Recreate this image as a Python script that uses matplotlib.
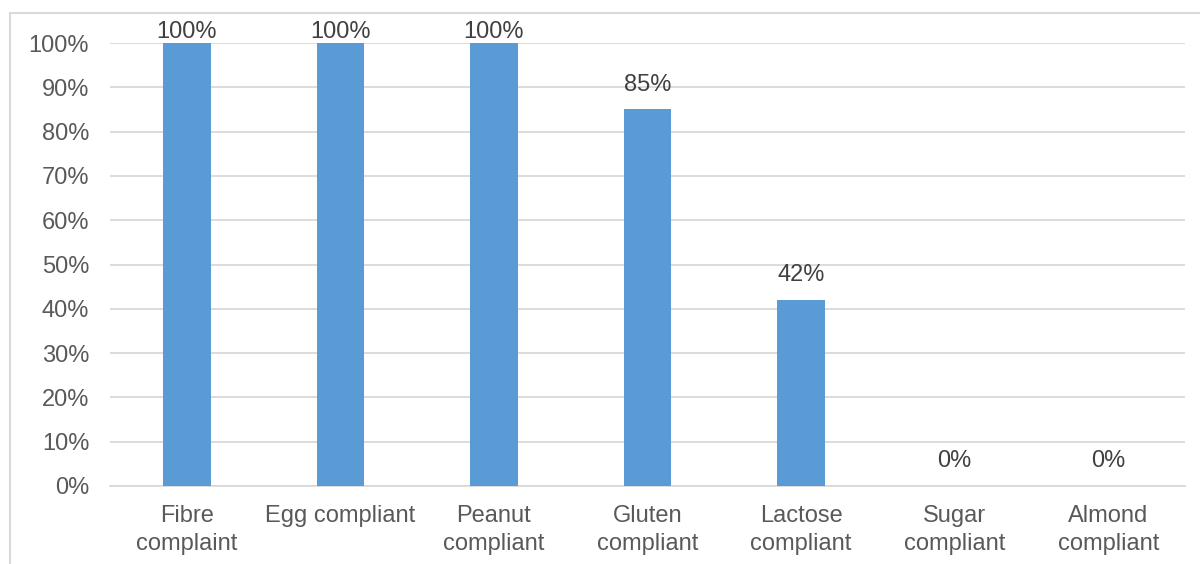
import matplotlib
matplotlib.use("Agg")
import matplotlib.pyplot as plt
from matplotlib.patches import Rectangle
from matplotlib.ticker import PercentFormatter

categories = ["Fibre\ncomplaint", "Egg compliant", "Peanut\ncompliant", "Gluten\ncompliant",
              "Lactose\ncompliant", "Sugar\ncompliant", "Almond\ncompliant"]
values = [100, 100, 100, 85, 42, 0, 0]
value_labels = ["100%", "100%", "100%", "85%", "42%", "0%", "0%"]

plt.rcParams["font.family"] = ["Liberation Sans", "DejaVu Sans"]

W, H = 1200, 564
fig = plt.figure(figsize=(W / 100, H / 100), dpi=100)
ax = fig.add_axes([110 / W, 1 - 486 / H, (1185 - 110) / W, (486 - 43) / H])

x = range(len(categories))
ax.bar(x, values, width=0.31, color="#5B9BD5", zorder=3)
ax.set_xlim(-0.5, len(categories) - 0.5)
ax.set_ylim(0, 100)
ax.set_yticks(range(0, 101, 10))
ax.yaxis.set_major_formatter(PercentFormatter(decimals=0))
ax.set_xticks(list(x))
ax.set_xticklabels(categories, linespacing=1.3)
ax.tick_params(axis="both", length=0, labelsize=17, colors="#595959")
ax.tick_params(axis="y", pad=15)
ax.tick_params(axis="x", pad=14)
ax.grid(axis="y", color="#D9D9D9", linewidth=1.3, zorder=0)
for s in ("top", "right", "left"):
    ax.spines[s].set_visible(False)
ax.spines["bottom"].set_color("#D9D9D9")
ax.spines["bottom"].set_linewidth(1.3)

for xi, v, lab in zip(x, values, value_labels):
    ax.annotate(lab, (xi, v), xytext=(0, 0 if v >= 100 else 10), textcoords="offset points",
                ha="center", va="bottom", fontsize=17, color="#404040", zorder=4,
                annotation_clip=False)

# outer chart frame
fig.patches.append(Rectangle((10 / W, -0.1), 1.2, 1 - 13 / H + 0.1, transform=fig.transFigure,
                             fill=False, edgecolor="#D9D9D9", linewidth=1.5))

fig.savefig("out.png", dpi=100)
